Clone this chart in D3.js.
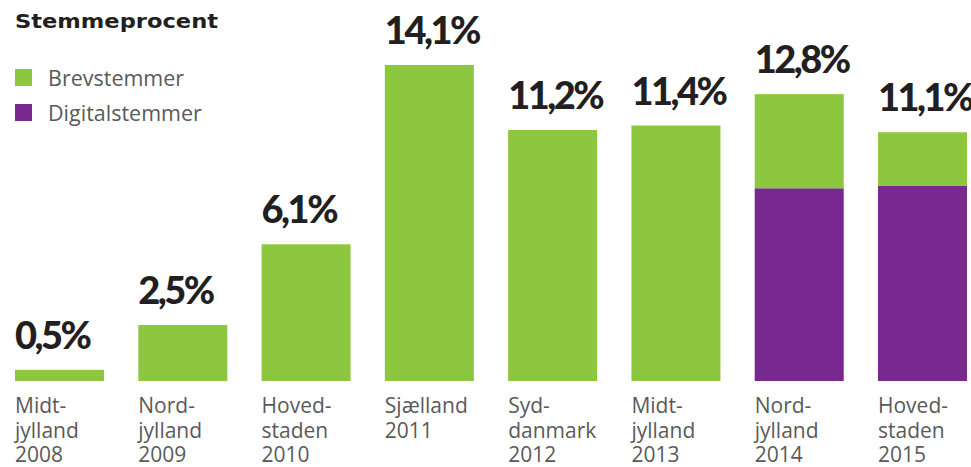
<!DOCTYPE html>
<html>
<head>
<meta charset="utf-8">
<script src="https://cdn.jsdelivr.net/npm/d3@7"></script>
<style>
  body { margin: 0; background: #fff; }
  svg { display: block; }
</style>
</head>
<body>
<div id="chart"></div>
<script>
// Stemmeprocent per valg – brev- og digitalstemmer
const regions = ["Midt-", "Nord-", "Hoved-", "Sjælland", "Syd-", "Midt-", "Nord-", "Hoved-"];
const regions2 = ["jylland", "jylland", "staden", "", "danmark", "jylland", "jylland", "staden"];
const years = ["2008", "2009", "2010", "2011", "2012", "2013", "2014", "2015"];
const brevstemmer = [0.5, 2.5, 6.1, 14.1, 11.2, 11.4, 4.2, 2.4];
const digitalstemmer = [0, 0, 0, 0, 0, 0, 8.6, 8.7];
const totals = [0.5, 2.5, 6.1, 14.1, 11.2, 11.4, 12.8, 11.1];
const seriesNames = ["Brevstemmer", "Digitalstemmer"];
const colors = ["#8dc63f", "#77298f"];

const width = 971, height = 467;
const baseline = 381;

const svg = d3.select("#chart")
  .append("svg")
  .attr("width", width)
  .attr("height", height);

const x = d3.scaleBand()
  .domain(d3.range(years.length))
  .range([15, 967])
  .paddingInner(0.278)
  .paddingOuter(0);

const y = d3.scaleLinear().domain([0, 14.1]).range([baseline, 65]);

const data = years.map((yr, i) => ({ i, digital: digitalstemmer[i], brev: brevstemmer[i], total: totals[i] }));

// digital at bottom, brev on top
svg.selectAll(".digital")
  .data(data.filter(d => d.digital > 0))
  .enter()
  .append("rect")
  .attr("class", "digital")
  .attr("x", d => x(d.i))
  .attr("width", x.bandwidth())
  .attr("y", d => y(d.digital))
  .attr("height", d => baseline - y(d.digital))
  .attr("fill", colors[1]);

svg.selectAll(".brev")
  .data(data)
  .enter()
  .append("rect")
  .attr("class", "brev")
  .attr("x", d => x(d.i))
  .attr("width", x.bandwidth())
  .attr("y", d => y(d.digital + d.brev))
  .attr("height", d => y(d.digital) - y(d.digital + d.brev))
  .attr("fill", colors[0]);

// value labels
svg.selectAll(".value")
  .data(data)
  .enter()
  .append("text")
  .attr("class", "value")
  .attr("x", d => x(d.i))
  .attr("y", d => y(d.total) - 21)
  .attr("font-family", "Lato, 'DejaVu Sans', sans-serif")
  .attr("font-weight", 900)
  .attr("font-size", "38px")
  .attr("letter-spacing", "-2.5px")
  .attr("fill", "#231f20")
  .text(d => String(d.total).replace(".", ",") + "%");

// category labels
const cat = svg.selectAll(".cat")
  .data(data)
  .enter()
  .append("text")
  .attr("class", "cat")
  .attr("x", d => x(d.i))
  .attr("y", 413)
  .attr("font-family", "'Open Sans', sans-serif")
  .attr("font-size", "21px")
  .attr("fill", "#5a5a5a");

cat.each(function (d) {
  const lines = [regions[d.i], regions2[d.i], years[d.i]].filter(s => s !== "");
  const t = d3.select(this);
  lines.forEach((s, k) => {
    t.append("tspan")
      .attr("x", x(d.i))
      .attr("y", 413 + k * 24.5)
      .text(s);
  });
});

// title
svg.append("text")
  .attr("x", 15)
  .attr("y", 28)
  .attr("font-family", "'DejaVu Sans', sans-serif")
  .attr("font-weight", 700)
  .attr("font-size", "19px")
  .attr("textLength", 203)
  .attr("lengthAdjust", "spacingAndGlyphs")
  .attr("fill", "#231f20")
  .text("Stemmeprocent");

// legend
const legend = svg.selectAll(".legend")
  .data(seriesNames)
  .enter()
  .append("g")
  .attr("class", "legend")
  .attr("transform", (d, i) => `translate(15,${69 + i * 35})`);

legend.append("rect")
  .attr("width", 17)
  .attr("height", 17)
  .attr("fill", (d, i) => colors[i]);

legend.append("text")
  .attr("x", 33)
  .attr("y", 17)
  .attr("font-family", "'Open Sans', sans-serif")
  .attr("font-size", "21.5px")
  .attr("fill", "#5a5a5a")
  .text(d => d);
</script>
</body>
</html>
